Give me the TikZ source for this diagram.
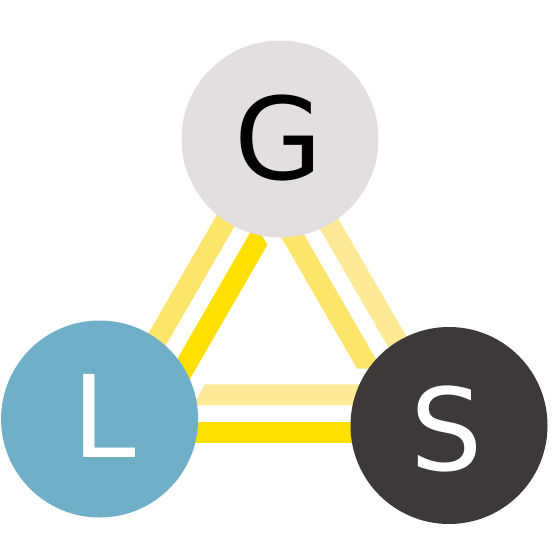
\documentclass[tikz,border=0pt]{standalone}
\usepackage{fontspec}
\setmainfont{DejaVu Sans}
\definecolor{barGold}{HTML}{FFDF00}
\definecolor{barMid}{HTML}{FDE56B}
\definecolor{barPale}{HTML}{FEEA96}
\definecolor{gFill}{HTML}{E3DFDF}
\definecolor{lFill}{HTML}{6FAFC8}
\definecolor{sFill}{HTML}{3E3939}
\begin{document}
\begin{tikzpicture}[x=1bp,y=-1bp,
  bar/.style={line width=21bp},
  ball/.style={circle, minimum size=197bp, inner sep=0pt},
  letter/.style={anchor=base, inner sep=0pt, font=\fontsize{114bp}{114bp}\selectfont}]
\useasboundingbox (0,0) rectangle (555,555);
\fill[white] (0,0) rectangle (555,555);
% outer triangle corners (hidden inside the circles)
\coordinate (A2) at (276.5,132.6);
\coordinate (B2) at (103.3,432.6);
\coordinate (C2) at (449.7,432.6);
\draw[bar, barMid]  (A2) -- (B2);
\draw[bar, barPale] (A2) -- (C2);
\draw[bar, barGold] (B2) -- (C2);
% inner bars
\fill[barPale] (205,384.4) -- (440,384.4) -- (440,405.4) -- (192.9,405.4) -- cycle;
\fill[barGold] (267.39,244.78) -- (149.89,448.29) -- (131.71,437.79) -- (255.26,223.8) -- cycle;
\fill[barMid] (357.11,368.62) -- (239.61,165.11) -- (257.81,154.61) -- (381.34,368.61) -- cycle;
% circles
\node[ball, fill=gFill] (G) at (280,139) {};
\node[ball, fill=lFill] (L) at (99.6,419) {};
\node[ball, fill=sFill] (S) at (449,425.5) {};
% letters
\node[letter, text=black] (Gt) at (279,179.5) {G};
\node[letter, text=white] (Lt) at (104,457.4) {L};
\node[letter, text=white] (St) at (447,470) {S};
\end{tikzpicture}
\end{document}
